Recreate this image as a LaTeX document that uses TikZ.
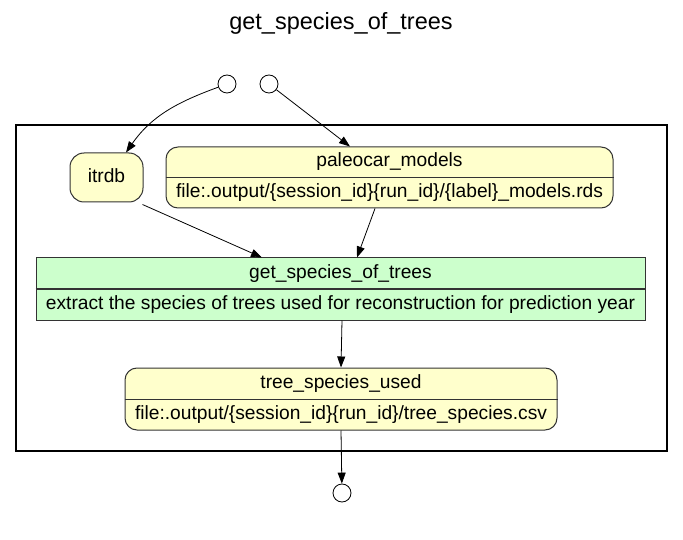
\documentclass[tikz,border=0pt]{standalone}
\usepackage{fontspec}
\setmainfont{Liberation Sans}
\usetikzlibrary{arrows.meta,calc}
\definecolor{yellowfill}{HTML}{FFFFCC}
\definecolor{greenfill}{HTML}{CCFFCC}
\definecolor{boxline}{HTML}{333333}
\begin{document}
\begin{tikzpicture}[x=1pt,y=-1pt,
  lbl/.style={font=\fontsize{19.2}{22}\selectfont, inner sep=0pt, text height=14pt, text depth=4pt},
  ttl/.style={font=\fontsize{23.5}{28}\selectfont, inner sep=0pt, anchor=base},
  databox/.style={draw=boxline, fill=yellowfill, rounded corners=12pt, line width=1pt, inner sep=0pt},
  procbox/.style={draw=boxline, fill=greenfill, line width=1pt, inner sep=0pt},
  port/.style={circle, draw=black, fill=white, minimum size=18pt, inner sep=0pt, line width=0.8pt},
  arr/.style={-{Triangle[length=11pt,width=8pt]}, line width=0.8pt},
  divider/.style={draw=boxline, line width=1pt}
]
\useasboundingbox (0,0) rectangle (683,540);
\node[ttl] (title) at (341,30) {get\_species\_of\_trees};
\node[draw=black, line width=2pt, minimum width=651pt, minimum height=326pt, inner sep=0pt] (cluster) at (341.5,288) {};

\node[port] (p1) at (227,84) {};
\node[port] (p2) at (269,84) {};
\node[port] (p3) at (342,493) {};

\node[databox, minimum width=73pt, minimum height=49pt, rounded corners=14pt] (itrdb) at (106.5,177.5) {};
\node[lbl] (itrdbT) at (106.5,177.5) {itrdb};

\node[databox, minimum width=447pt, minimum height=61pt] (pm) at (389.5,177.5) {};
\draw[divider] (pm.west) -- (pm.east);
\node[lbl] (pmT) at (389.5,162) {paleocar\_models};
\node[lbl] (pmB) at (389.5,192.5) {file:.output/\{session\_id\}\{run\_id\}/\{label\}\_models.rds};

\node[procbox, minimum width=609pt, minimum height=62pt] (gs) at (340.5,289) {};
\draw[divider] (gs.west) -- (gs.east);
\node[lbl] (gsT) at (340.5,273.5) {get\_species\_of\_trees};
\node[lbl] (gsB) at (340.5,304.5) {extract the species of trees used for reconstruction for prediction year};

\node[databox, minimum width=432pt, minimum height=62pt] (ts) at (341,399) {};
\draw[divider] (ts.west) -- (ts.east);
\node[lbl] (tsT) at (341,383.5) {tree\_species\_used};
\node[lbl] (tsB) at (341,414.5) {file:.output/\{session\_id\}\{run\_id\}/tree\_species.csv};

\draw[arr] (p1) to[out=200, in=55] ([xshift=19.5pt]itrdb.north);
\draw[arr] (p2) -- ([xshift=-39.5pt]pm.north);
\draw[arr] ([xshift=36pt,yshift=-2pt]itrdb.south) -- ([xshift=-78.5pt]gs.north);
\draw[arr] ([xshift=-14.5pt]pm.south) -- ([xshift=16.5pt]gs.north);
\draw[arr] ([xshift=1.5pt]gs.south) -- (ts.north);
\draw[arr] (ts.south) -- (p3);
\end{tikzpicture}
\end{document}
